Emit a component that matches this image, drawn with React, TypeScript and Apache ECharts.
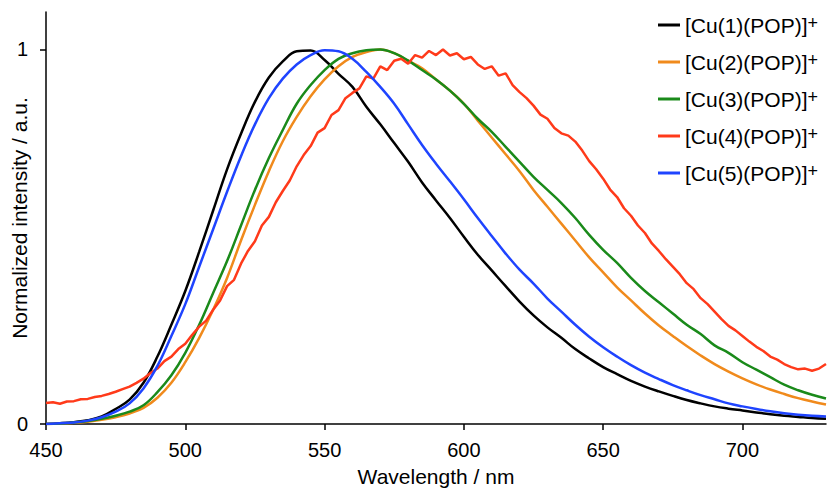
import React, { useEffect, useRef } from "react";
import * as echarts from "echarts";

// Wavelength grid (nm) for the smooth spectra
const wavelengths = [
  450, 455, 460, 465, 470, 475, 480, 485, 490, 495, 500, 505, 510, 515, 520, 525, 530, 535, 540, 545,
  550, 555, 560, 565, 570, 575, 580, 585, 590, 595, 600, 605, 610, 615, 620, 625, 630, 635, 640, 645,
  650, 655, 660, 665, 670, 675, 680, 685, 690, 695, 700, 705, 710, 715, 720, 725, 730,
];

const cu1 = [
  0.000, 0.002, 0.005, 0.010, 0.020, 0.040, 0.065, 0.110, 0.180, 0.265, 0.355, 0.460, 0.570, 0.680, 0.775, 0.860, 0.925, 0.968, 0.995, 0.997,
  0.972, 0.935, 0.900, 0.847, 0.800, 0.750, 0.700, 0.645, 0.597, 0.550, 0.500, 0.452, 0.410, 0.368, 0.327, 0.290, 0.258, 0.230, 0.200, 0.175,
  0.152, 0.133, 0.115, 0.100, 0.087, 0.075, 0.064, 0.055, 0.047, 0.041, 0.036, 0.031, 0.026, 0.022, 0.019, 0.016, 0.014,
];

const cu2 = [
  0.000, 0.001, 0.003, 0.006, 0.011, 0.018, 0.028, 0.043, 0.070, 0.110, 0.165, 0.230, 0.305, 0.390, 0.490, 0.585, 0.675, 0.755, 0.820, 0.875,
  0.920, 0.955, 0.980, 0.993, 1.000, 0.990, 0.970, 0.950, 0.920, 0.890, 0.855, 0.810, 0.765, 0.720, 0.675, 0.625, 0.580, 0.535, 0.490, 0.445,
  0.405, 0.365, 0.330, 0.295, 0.263, 0.235, 0.208, 0.183, 0.160, 0.140, 0.122, 0.106, 0.092, 0.080, 0.069, 0.060, 0.052,
];

const cu3 = [
  0.000, 0.001, 0.004, 0.008, 0.014, 0.022, 0.033, 0.050, 0.085, 0.130, 0.190, 0.265, 0.350, 0.435, 0.530, 0.625, 0.710, 0.785, 0.855, 0.905,
  0.945, 0.975, 0.990, 0.998, 1.000, 0.990, 0.970, 0.945, 0.920, 0.890, 0.855, 0.815, 0.780, 0.740, 0.700, 0.660, 0.625, 0.590, 0.550, 0.505,
  0.465, 0.430, 0.390, 0.355, 0.325, 0.295, 0.265, 0.240, 0.210, 0.190, 0.165, 0.145, 0.125, 0.105, 0.090, 0.078, 0.068,
];

const cu5 = [
  0.000, 0.002, 0.004, 0.009, 0.018, 0.033, 0.055, 0.095, 0.155, 0.235, 0.320, 0.420, 0.520, 0.620, 0.715, 0.800, 0.870, 0.922, 0.960, 0.985,
  0.998, 0.995, 0.975, 0.940, 0.900, 0.855, 0.800, 0.745, 0.695, 0.648, 0.600, 0.550, 0.502, 0.455, 0.412, 0.375, 0.335, 0.300, 0.265, 0.233,
  0.205, 0.180, 0.157, 0.137, 0.120, 0.104, 0.090, 0.077, 0.066, 0.055, 0.047, 0.040, 0.034, 0.029, 0.025, 0.022, 0.020,
];

// The noisy spectrum is read on a finer 2.5 nm grid
const cu4Wavelengths = [
  450, 452.5, 455, 457.5, 460, 462.5, 465, 467.5, 470, 472.5, 475, 477.5, 480, 482.5, 485, 487.5, 490, 492.5, 495, 497.5,
  500, 502.5, 505, 507.5, 510, 512.5, 515, 517.5, 520, 522.5, 525, 527.5, 530, 532.5, 535, 537.5, 540, 542.5, 545, 547.5,
  550, 552.5, 555, 557.5, 560, 562.5, 565, 567.5, 570, 572.5, 575, 577.5, 580, 582.5, 585, 587.5, 590, 592.5, 595, 597.5,
  600, 602.5, 605, 607.5, 610, 612.5, 615, 617.5, 620, 622.5, 625, 627.5, 630, 632.5, 635, 637.5, 640, 642.5, 645, 647.5,
  650, 652.5, 655, 657.5, 660, 662.5, 665, 667.5, 670, 672.5, 675, 677.5, 680, 682.5, 685, 687.5, 690, 692.5, 695, 697.5,
  700, 702.5, 705, 707.5, 710, 712.5, 715, 717.5, 720, 722.5, 725, 727.5, 730,
];

const cu4 = [
  0.056, 0.058, 0.054, 0.060, 0.061, 0.066, 0.067, 0.072, 0.075, 0.080, 0.086, 0.093, 0.100, 0.110, 0.121, 0.136, 0.148, 0.168, 0.180, 0.200,
  0.214, 0.238, 0.260, 0.276, 0.305, 0.330, 0.368, 0.385, 0.428, 0.462, 0.488, 0.530, 0.553, 0.592, 0.622, 0.650, 0.688, 0.718, 0.742, 0.778,
  0.790, 0.825, 0.838, 0.870, 0.884, 0.896, 0.928, 0.922, 0.955, 0.945, 0.970, 0.975, 0.962, 0.985, 0.978, 0.996, 0.985, 1.000, 0.984, 0.990,
  0.974, 0.980, 0.960, 0.948, 0.955, 0.930, 0.936, 0.905, 0.886, 0.870, 0.850, 0.826, 0.815, 0.790, 0.776, 0.770, 0.754, 0.730, 0.702, 0.680,
  0.655, 0.626, 0.606, 0.576, 0.556, 0.530, 0.510, 0.482, 0.462, 0.440, 0.420, 0.400, 0.376, 0.360, 0.336, 0.320, 0.300, 0.280, 0.262, 0.250,
  0.235, 0.220, 0.206, 0.195, 0.180, 0.172, 0.160, 0.152, 0.146, 0.148, 0.142, 0.148, 0.160,
];

const seriesNames = [
  "[Cu(1)(POP)]+",
  "[Cu(2)(POP)]+",
  "[Cu(3)(POP)]+",
  "[Cu(4)(POP)]+",
  "[Cu(5)(POP)]+",
];
const seriesColors = ["#000000", "#F08A1C", "#1A8A1A", "#FF3A1A", "#1F44FF"];

const xTickValues = [450, 500, 550, 600, 650, 700];
const yTickValues = [0, 1];

const xTitle = "Wavelength / nm";
const yTitle = "Normalized intensity / a.u.";

const pair = (xs: number[], ys: number[]) =>
  xs.slice(0, Math.min(xs.length, ys.length)).map((x, i) => [x, ys[i]]);

export default function App() {
  const ref = useRef<HTMLDivElement>(null);

  useEffect(() => {
    if (!ref.current) return;
    const chart = echarts.init(ref.current, null, { renderer: "svg" });
    const font = "'Liberation Sans', Arial, Helvetica, sans-serif";
    const datasets = [
      pair(wavelengths, cu1),
      pair(wavelengths, cu2),
      pair(wavelengths, cu3),
      pair(cu4Wavelengths, cu4),
      pair(wavelengths, cu5),
    ];
    chart.setOption({
      animation: false,
      backgroundColor: "#ffffff",
      textStyle: { fontFamily: font },
      grid: { left: 46, right: 2, top: 12, bottom: 66, containLabel: false, outerBoundsMode: "none" },
      legend: {
        orient: "vertical",
        left: 658,
        top: 14,
        padding: 0,
        itemGap: 15,
        itemWidth: 22,
        itemHeight: 3,
        icon: "rect",
        selectedMode: false,
        data: seriesNames,
        formatter: (n: string) => n.replace(/\+$/, "") + "{sup|+}",
        textStyle: {
          fontSize: 21,
          color: "#000",
          fontFamily: font,
          lineHeight: 22,
          rich: {
            sup: { fontSize: 18, lineHeight: 8, verticalAlign: "top", color: "#000", fontFamily: font },
          },
        },
      },
      xAxis: {
        type: "value",
        min: 450,
        max: 730,
        interval: 50,
        name: xTitle,
        nameLocation: "middle",
        nameGap: 42,
        nameMoveOverlap: false,
        nameTextStyle: { fontSize: 21, color: "#000", fontFamily: font },
        axisLine: { show: true, lineStyle: { color: "#000", width: 1.5 } },
        axisTick: { show: true, length: 6, customValues: xTickValues, lineStyle: { color: "#000", width: 1.5 } },
        axisLabel: { fontSize: 20, color: "#000", margin: 16, fontFamily: font, customValues: xTickValues },
        splitLine: { show: false },
      },
      yAxis: {
        type: "value",
        min: 0,
        max: 1.1,
        interval: 1,
        name: yTitle,
        nameLocation: "middle",
        nameGap: 16,
        nameMoveOverlap: false,
        nameTextStyle: { fontSize: 21, color: "#000", fontFamily: font },
        axisLine: { show: true, lineStyle: { color: "#000", width: 1.5 } },
        axisTick: { show: true, length: 6, customValues: yTickValues, lineStyle: { color: "#000", width: 1.5 } },
        axisLabel: { fontSize: 20, color: "#000", margin: 18, fontFamily: font, customValues: yTickValues },
        splitLine: { show: false },
      },
      series: datasets.map((d, i) => ({
        name: seriesNames[i],
        type: "line",
        data: d,
        showSymbol: false,
        symbol: "none",
        smooth: i === 3 ? false : 0.4,
        color: seriesColors[i],
        lineStyle: { color: seriesColors[i], width: 2.5 },
        emphasis: { disabled: true },
      })),
    });
    return () => chart.dispose();
  }, []);

  return (
    <div
      ref={ref}
      style={{ position: "fixed", left: 0, top: 0, width: 828, height: 490 }}
    />
  );
}
